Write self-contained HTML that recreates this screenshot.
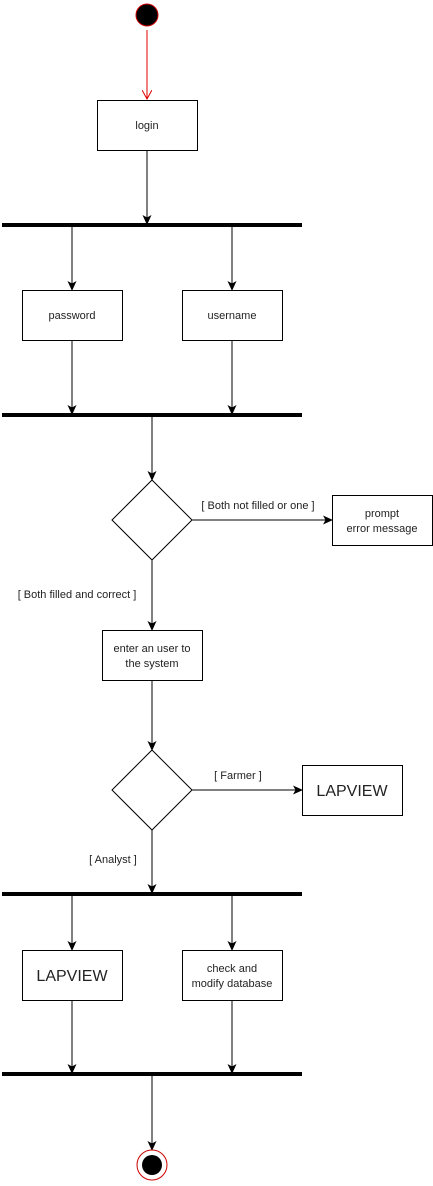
<!DOCTYPE html>
<html><head><style>
body{margin:0;background:#fff;}
svg text{font-family:"Liberation Sans",Arial,sans-serif;font-size:11px;fill:#222;}
</style></head><body>
<svg width="433" height="1181" viewBox="0 0 433 1181" xmlns="http://www.w3.org/2000/svg">
<defs>
<marker id="a" markerWidth="10" markerHeight="10" refX="9" refY="5" orient="auto" markerUnits="userSpaceOnUse"><path d="M0,0.5 L10,5 L0,9.5 L2.5,5 z" fill="#000"/></marker>
<marker id="r" markerWidth="10" markerHeight="10" refX="9" refY="5" orient="auto" markerUnits="userSpaceOnUse"><path d="M0,0 L9,5 L0,10" fill="none" stroke="#d00" stroke-width="1"/></marker>
</defs>
<circle cx="147" cy="15" r="11" fill="#000" stroke="#c00" stroke-width="1"/>
<line x1="147" y1="30" x2="147" y2="99" stroke="#d00" stroke-width="1" marker-end="url(#r)"/>
<rect x="97.5" y="100.5" width="100" height="50" fill="#fff" stroke="#000"/>
<text x="147" y="129" text-anchor="middle">login</text>
<g stroke="#000" stroke-width="1" fill="none">
<line x1="147" y1="151" x2="147" y2="224" marker-end="url(#a)"/>
<line x1="72" y1="227" x2="72" y2="290" marker-end="url(#a)"/>
<line x1="232" y1="227" x2="232" y2="290" marker-end="url(#a)"/>
<line x1="72" y1="341" x2="72" y2="414" marker-end="url(#a)"/>
<line x1="232" y1="341" x2="232" y2="414" marker-end="url(#a)"/>
<line x1="152" y1="417" x2="152" y2="480" marker-end="url(#a)"/>
<line x1="192" y1="520" x2="332" y2="520" marker-end="url(#a)"/>
<line x1="152" y1="560" x2="152" y2="630" marker-end="url(#a)"/>
<line x1="152" y1="681" x2="152" y2="750" marker-end="url(#a)"/>
<line x1="192" y1="790" x2="302" y2="790" marker-end="url(#a)"/>
<line x1="152" y1="830" x2="152" y2="893" marker-end="url(#a)"/>
<line x1="72" y1="896" x2="72" y2="950" marker-end="url(#a)"/>
<line x1="232" y1="896" x2="232" y2="950" marker-end="url(#a)"/>
<line x1="72" y1="1001" x2="72" y2="1073" marker-end="url(#a)"/>
<line x1="232" y1="1001" x2="232" y2="1073" marker-end="url(#a)"/>
<line x1="152" y1="1076" x2="152" y2="1150" marker-end="url(#a)"/>
</g>
<rect x="2" y="223" width="300" height="4" fill="#000"/>
<rect x="2" y="413" width="300" height="4" fill="#000"/>
<rect x="2" y="892" width="300" height="4" fill="#000"/>
<rect x="2" y="1072" width="300" height="4" fill="#000"/>
<g fill="#fff" stroke="#000">
<rect x="22.5" y="290.5" width="100" height="50"/>
<rect x="182.5" y="290.5" width="100" height="50"/>
<polygon points="152,480 192,520 152,560 112,520"/>
<rect x="332.5" y="495.5" width="100" height="50"/>
<rect x="102.5" y="630.5" width="100" height="50"/>
<polygon points="152,750 192,790 152,830 112,790"/>
<rect x="302.5" y="765.5" width="100" height="50"/>
<rect x="22.5" y="950.5" width="100" height="50"/>
<rect x="182.5" y="950.5" width="100" height="50"/>
</g>
<text x="72" y="319" text-anchor="middle">password</text>
<text x="232" y="319" text-anchor="middle">username</text>
<text x="258" y="509" text-anchor="middle">[ Both not filled or one ]</text>
<text x="382" y="517" text-anchor="middle">prompt</text>
<text x="382" y="532" text-anchor="middle">error message</text>
<text x="77" y="598" text-anchor="middle">[ Both filled and correct ]</text>
<text x="152" y="652" text-anchor="middle">enter an user to</text>
<text x="152" y="667" text-anchor="middle">the system</text>
<text x="238" y="779" text-anchor="middle">[ Farmer ]</text>
<text x="352" y="796" text-anchor="middle" style="font-size:16px">LAPVIEW</text>
<text x="113" y="863" text-anchor="middle">[ Analyst ]</text>
<text x="72" y="981" text-anchor="middle" style="font-size:16px">LAPVIEW</text>
<text x="232" y="972" text-anchor="middle">check and</text>
<text x="232" y="987" text-anchor="middle">modify database</text>
<circle cx="152" cy="1165" r="15" fill="#fff" stroke="#c00" stroke-width="1"/>
<circle cx="152" cy="1165" r="10" fill="#000"/>
</svg>
</body></html>
